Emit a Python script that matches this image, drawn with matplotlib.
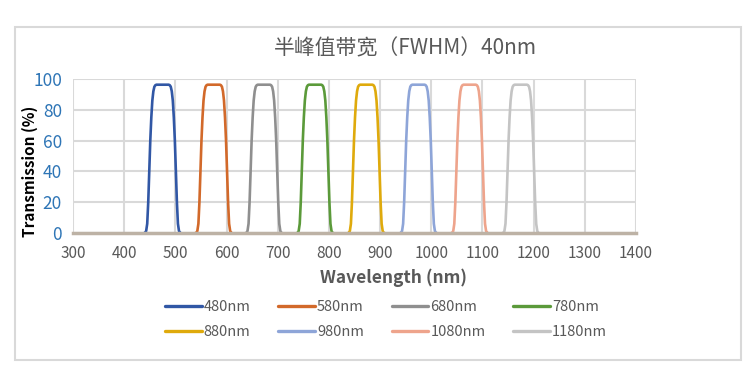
import matplotlib
matplotlib.use("Agg")
import matplotlib.pyplot as plt
from matplotlib.patches import Rectangle

plt.rcParams['font.family'] = ['Noto Sans CJK SC', 'DejaVu Sans']

# filters: label, measured centre (nm), colour
labels = ["480nm", "580nm", "680nm", "780nm", "880nm", "980nm", "1080nm", "1180nm"]
centers = [475, 575, 673, 773, 873, 975, 1075, 1175]
colors = ["#3157a5", "#d2692a", "#8f8f8f", "#5b9a3a",
          "#dfaa0c", "#8ea5d8", "#eea48c", "#c4c4c4"]

# passband shape (offset from centre in nm, transmission %)
offsets = [-36, -33.5, -32, -30, -28, -26, -24, -22, -20, -18, -16, -14, -12,
           0, 12, 14, 16, 18, 20, 22, 24, 26, 28, 30, 32, 33.5, 36]
trans = [0, 0, 1.5, 6, 20, 40, 60, 75, 86, 92, 95, 96, 96.3,
         96.3, 96.3, 96, 95, 92, 86, 75, 60, 40, 20, 6, 1.5, 0, 0]

xticks = list(range(300, 1401, 100))
yticks = [0, 20, 40, 60, 80, 100]

W, H = 755, 391
fig = plt.figure(figsize=(W / 100, H / 100), dpi=100)

# outer chart frame
fig.patches.append(Rectangle((15 / W, 1 - 360 / H), (741 - 15) / W, (360 - 27) / H,
                             transform=fig.transFigure, fill=False,
                             edgecolor="#d9d9d9", linewidth=1.5))

ax = fig.add_axes([73 / W, 1 - 233 / H, (636 - 73) / W, (233 - 79) / H])

lines = []
for lab, c0, col in zip(labels, centers, colors):
    xs = [c0 + o for o in offsets]
    ln, = ax.plot(xs, trans, color=col, linewidth=1.9, label=lab, solid_capstyle="round",
                  solid_joinstyle="round", zorder=3)
    lines.append(ln)

ax.set_xlim(300, 1400)
ax.set_ylim(0, 100)
ax.set_xticks(xticks)
ax.set_yticks(yticks)
ax.grid(True, color="#d9d9d9", linewidth=1.5)
ax.set_axisbelow(True)
for s in ["top", "right", "left"]:
    ax.spines[s].set_visible(False)
ax.spines["bottom"].set_color("#bdb2a5")
ax.spines["bottom"].set_linewidth(2.5)
ax.spines["bottom"].set_zorder(4)
ax.tick_params(axis="both", length=0)
ax.tick_params(axis="y", labelsize=12.5, labelcolor="#2e75b6", pad=8)
ax.tick_params(axis="x", labelsize=11, labelcolor="#595959", pad=9)

fig.text(393 / W, 1 - 278 / H, "Wavelength (nm)", fontsize=12.5, fontweight="bold",
         color="#595959", ha="center", va="center")
fig.text(30 / W, 1 - 171 / H, "Transmission (%)", rotation=90, fontsize=11,
         fontweight="bold", color="black", ha="center", va="center")

fig.text(405 / W, 1 - 48 / H, "半峰值带宽（FWHM）40nm", fontsize=15, color="#595959",
         ha="center", va="center")

# legend filled row by row (4 per row)
order = [0, 4, 1, 5, 2, 6, 3, 7]
leg = fig.legend([lines[i] for i in order], [labels[i] for i in order],
                 loc="center", bbox_to_anchor=(386 / W, 1 - 319.5 / H), ncol=4,
                 frameon=False, fontsize=10.5, handlelength=2.5, handletextpad=0.15,
                 columnspacing=1.9, labelspacing=0.7)
for t in leg.get_texts():
    t.set_color("#595959")
for h in leg.legend_handles:
    h.set_linewidth(2.4)

fig.savefig("out.png", dpi=100)
